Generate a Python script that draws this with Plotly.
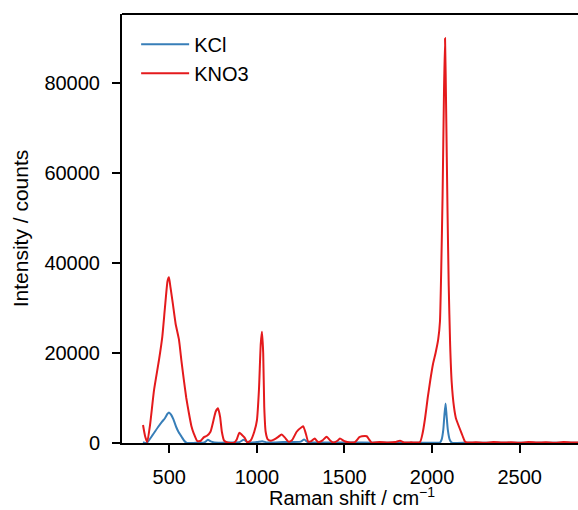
import plotly.graph_objects as go

# ---- data ----
kno3_x = [350, 362, 374, 390, 413, 441, 460, 475, 490, 498, 507, 520, 536, 555, 570, 583, 597, 612, 626, 640,
          660, 680, 698, 715, 735, 752, 765, 778, 790, 800, 812, 832, 870, 885, 900, 915, 930, 946, 965, 985,
          1000, 1012, 1022, 1029, 1036, 1042, 1050, 1062, 1080, 1100, 1120, 1141, 1160, 1180, 1200, 1227, 1255,
          1265, 1280, 1293, 1310, 1330, 1350, 1375, 1398, 1420, 1436, 1460, 1474, 1500, 1532, 1560, 1585, 1600,
          1627, 1640, 1655, 1700, 1750, 1790, 1817, 1840, 1880, 1931, 1945, 1960, 1975, 1990, 2005, 2020, 2035,
          2045, 2052, 2060, 2068, 2074, 2080, 2088, 2095, 2103, 2112, 2125, 2136, 2150, 2160, 2175, 2188, 2200,
          2250, 2300, 2350, 2400, 2450, 2500, 2550, 2600, 2650, 2700, 2750, 2800, 2850, 2900, 2950, 3000]
kno3_y = [4000, 1500, 200, 4000, 11800, 18400, 23600, 30000, 36000, 36800, 34500, 31000, 26500, 23000, 18000,
          14000, 10000, 6600, 3800, 2100, 400, 500, 1300, 1600, 2500, 5000, 7000, 7700, 5800, 2500, 600, 100,
          50, 800, 2300, 1800, 1200, 100, 600, 2500, 5000, 12000, 22000, 24700, 20000, 8000, 2500, 800, 500,
          800, 1300, 1900, 1200, 300, 600, 2500, 3500, 3700, 2000, 300, 400, 1000, 200, 600, 1400, 500, 100,
          500, 1000, 400, 100, 200, 1300, 1500, 1500, 800, 100, 200, 100, 200, 500, 100, 150, 200, 2000, 5500,
          10000, 14000, 17500, 20000, 23000, 27000, 38000, 55000, 78000, 89900, 75000, 52000, 35000, 22000,
          13500, 8000, 5500, 4000, 3000, 1500, 300, 100, 150, 50, 200, 100, 150, 50, 200, 100, 150, 50, 200,
          100, 150, 100, 50, 100]

kcl_x = [350, 371, 400, 437, 460, 475, 490, 498, 510, 523, 540, 552, 570, 585, 600, 650, 700, 720, 740, 780,
         830, 900, 925, 950, 1000, 1030, 1060, 1150, 1250, 1270, 1290, 1400, 1600, 1800, 2000, 2045, 2055,
         2064, 2070, 2077, 2083, 2090, 2100, 2112, 2200, 2500, 2800, 3000]
kcl_y = [200, 0, 1500, 3600, 4800, 5500, 6500, 6800, 6300, 5300, 3500, 2500, 1400, 500, 0, 50, 100, 700, 300,
         50, 100, 200, 700, 100, 200, 400, 100, 200, 300, 800, 200, 100, 100, 50, 50, 100, 800, 2900, 6000,
         8800, 6000, 2900, 800, 100, 50, 50, 50, 50]

x_ticks = [500, 1000, 1500, 2000, 2500]
y_ticks = [0, 20000, 40000, 60000, 80000]

FONT = "Liberation Sans, Arial, Helvetica, sans-serif"

fig = go.Figure()
fig.add_trace(go.Scatter(x=kcl_x, y=kcl_y, mode="lines", name="KCl",
                         line=dict(color="#377eb8", width=2, shape="spline", smoothing=0.5)))
fig.add_trace(go.Scatter(x=kno3_x, y=kno3_y, mode="lines", name="KNO3",
                         line=dict(color="#e41a1c", width=2, shape="spline", smoothing=0.5)))

fig.update_layout(
    width=578, height=510,
    margin=dict(l=122, r=0, t=14, b=67),
    plot_bgcolor="white", paper_bgcolor="white",
    font=dict(family=FONT, size=20, color="black"),
    showlegend=True,
    legend=dict(x=0.031, y=0.975, xanchor="left", yanchor="top",
                bgcolor="rgba(0,0,0,0)", font=dict(size=20), itemwidth=48,
                tracegroupgap=0),
    xaxis=dict(range=[230, 2833], tickvals=x_ticks, showgrid=False, zeroline=False,
               automargin=False,
               showline=True, linecolor="black", linewidth=2, ticks="outside",
               ticklen=8, tickwidth=1.5, tickcolor="black", ticklabelstandoff=7,
               tickfont=dict(size=20)),
    yaxis=dict(range=[0, 95300], tickvals=y_ticks, showgrid=False, zeroline=False,
               automargin=False,
               showline=True, linecolor="black", linewidth=2, ticks="outside",
               ticklen=8, tickwidth=1.5, tickcolor="black", tickformat="d",
               ticklabelstandoff=8, tickfont=dict(size=20),
               title=dict(text="Intensity / counts", font=dict(size=21), standoff=10)),
    shapes=[dict(type="line", xref="paper", yref="paper", x0=0, x1=1, y0=1, y1=1,
                 line=dict(color="black", width=2))],
    annotations=[dict(text="Raman shift / cm<sup>−1</sup>", xref="paper", yref="paper",
                      x=(352 - 122) / 456, y=0, yshift=-39, xanchor="center", yanchor="top",
                      showarrow=False, font=dict(size=20))],
)

fig.write_html("out.html", config={"displayModeBar": False},
               post_script="document.body.style.margin='0';")
